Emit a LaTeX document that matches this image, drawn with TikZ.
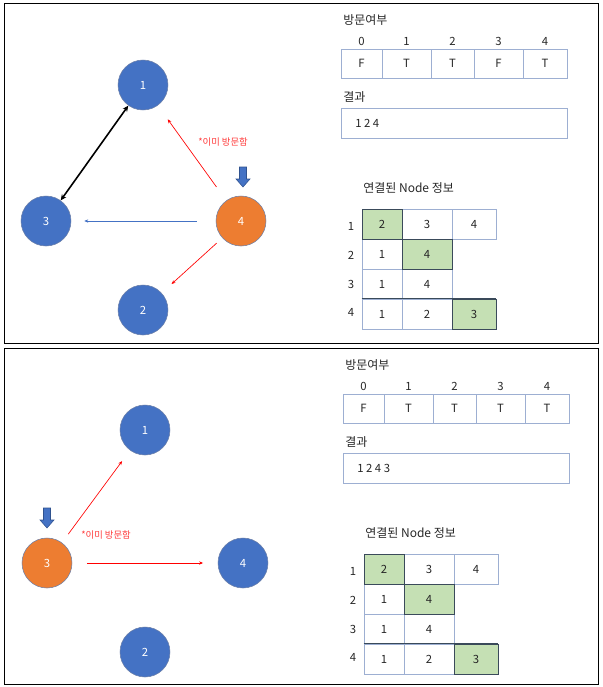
\documentclass[tikz,border=0pt]{standalone}
\usepackage{fontspec}
\setmainfont{Noto Sans CJK KR}
\usetikzlibrary{arrows.meta}
\pgfdeclarelayer{edgelayer}
\pgfdeclarelayer{nodelayer}
\pgfsetlayers{edgelayer,nodelayer,main}
\definecolor{nodeblue}{HTML}{4472C4}
\definecolor{nodeorange}{HTML}{ED7D31}
\definecolor{nodeline}{HTML}{6B7FA8}
\definecolor{pointerline}{HTML}{2F528F}
\definecolor{cellline}{HTML}{9DAFD2}
\definecolor{celldark}{HTML}{3A4A5A}
\definecolor{cellgreen}{HTML}{C5E0B4}
\definecolor{textgray}{HTML}{262626}
\definecolor{notered}{HTML}{FF3B3B}
\tikzstyle{vertex}=[circle, fill=nodeblue, draw=nodeline, line width=0.4pt, minimum size=37.5pt, inner sep=0pt, text=white, font=\fontsize{8.5}{10}\selectfont]
\tikzstyle{current}=[vertex, fill=nodeorange]
\tikzstyle{cell}=[rectangle, draw=cellline, fill=white, line width=0.6pt, inner sep=0pt, minimum height=22pt, text=textgray, font=\fontsize{8.5}{10}\selectfont]
\tikzstyle{hit}=[cell, fill=cellgreen, draw=celldark]
\tikzstyle{caption}=[inner sep=0pt, anchor=west, text=textgray, font=\fontsize{9}{11}\selectfont]
\tikzstyle{idx}=[inner sep=0pt, text=textgray, font=\fontsize{8.5}{10}\selectfont]
\tikzstyle{note}=[inner sep=0pt, text=notered, font=\fontsize{7}{8.4}\selectfont]
\tikzstyle{edge}=[draw=black, line width=1.2pt, {Stealth[length=4.5pt,width=4pt]}-{Stealth[length=4.5pt,width=4pt]}]
\tikzstyle{visit}=[draw=red, line width=0.5pt, -{Stealth[length=3pt,width=2.5pt]}]
\tikzstyle{skip}=[draw=nodeblue, line width=0.5pt, -{Stealth[length=3pt,width=2.5pt]}]
\tikzstyle{pointer}=[fill=nodeblue, draw=pointerline, line width=0.4pt]
\tikzstyle{panel}=[draw=black, line width=0.75pt]

\begin{document}
\begin{tikzpicture}[x=0.75pt, y=-0.75pt]
	\useasboundingbox (0,0) rectangle (603,687);
	\draw [style=panel] (4,3) rectangle (598,343);
	\draw [style=panel] (4,348) rectangle (598,684);

	% first step: node 4
	\begin{pgfonlayer}{nodelayer}
		\node [style=vertex] (a1) at (143, 85) {1};
		\node [style=vertex] (a2) at (143, 310) {2};
		\node [style=vertex] (a3) at (46, 221) {3};
		\node [style=current] (a4) at (241, 221) {4};
		\node [style=note] (anote) at (223, 142) {*이미 방문함};
	\end{pgfonlayer}
	\begin{pgfonlayer}{edgelayer}
		\draw [style=edge] (a1) to (a3);
		\draw [style=visit, shorten <=12.5pt, shorten >=12.75pt] (a4) to (a1);
		\draw [style=skip, shorten <=14.25pt, shorten >=9.75pt] (a4) to (a3);
		\draw [style=visit, shorten <=5.7pt, shorten >=10pt] (a4) to (a2);
	\end{pgfonlayer}
	\filldraw [style=pointer] (243,187) -- ++(-7,-8) -- ++(3.5,0) -- ++(0,-12) -- ++(7,0) -- ++(0,12) -- ++(3.5,0) -- cycle;

	\node [style=caption] (avtitle) at (343, 20) {방문여부};
	\node [style=idx] (ai0) at (361.5, 41) {0};
	\node [style=idx] (ai1) at (406.5, 41) {1};
	\node [style=idx] (ai2) at (452.5, 41) {2};
	\node [style=idx] (ai3) at (498.5, 41) {3};
	\node [style=idx] (ai4) at (545, 41) {4};
	\node [style=cell, minimum width=30.75pt, minimum height=21.75pt] (av0) at (361.5, 63.5) {F};
	\node [style=cell, minimum width=36.75pt, minimum height=21.75pt] (av1) at (406.5, 63.5) {T};
	\node [style=cell, minimum width=32.25pt, minimum height=21.75pt] (av2) at (452.5, 63.5) {T};
	\node [style=cell, minimum width=36.75pt, minimum height=21.75pt] (av3) at (498.5, 63.5) {F};
	\node [style=cell, minimum width=33pt, minimum height=21.75pt] (av4) at (545, 63.5) {T};
	\node [style=caption] (artitle) at (343, 97) {결과};
	\node [style=cell, minimum width=169.5pt, minimum height=22.5pt] (arbox) at (454, 123) {};
	\node [style=caption, font=\fontsize{8.5}{10}\selectfont] (artext) at (355, 123) {1 2 4};

	\node [style=caption] (agtitle) at (363, 188) {연결된 Node 정보};
	\node [style=idx] (ar1) at (351, 226) {1};
	\node [style=idx] (ar2) at (351, 255) {2};
	\node [style=idx] (ar3) at (351, 284) {3};
	\node [style=idx] (ar4) at (351, 312) {4};
	\node [style=cell, minimum width=37.5pt, minimum height=22.5pt] (ag12) at (427, 224) {3};
	\node [style=cell, minimum width=33pt, minimum height=22.5pt] (ag13) at (474, 224) {4};
	\node [style=cell, minimum width=30pt, minimum height=22.5pt] (ag21) at (382, 254) {1};
	\node [style=cell, minimum width=30pt, minimum height=22.5pt] (ag31) at (382, 284) {1};
	\node [style=cell, minimum width=37.5pt, minimum height=22.5pt] (ag32) at (427, 284) {4};
	\node [style=cell, minimum width=30pt, minimum height=22.5pt] (ag41) at (382, 314) {1};
	\node [style=cell, minimum width=37.5pt, minimum height=22.5pt] (ag42) at (427, 314) {2};
	\node [style=hit, minimum width=30pt, minimum height=22.5pt] (ag11) at (382, 224) {2};
	\node [style=hit, minimum width=37.5pt, minimum height=22.5pt] (ag22) at (427, 254) {4};
	\node [style=hit, minimum width=33pt, minimum height=22.5pt] (ag43) at (474, 314) {3};
	\draw [draw=celldark, line width=0.6pt] (ag41.north west) -- (ag43.north east);

	% second step: node 3
	\begin{pgfonlayer}{nodelayer}
		\node [style=vertex] (b1) at (145, 430) {1};
		\node [style=vertex] (b2) at (145, 652) {2};
		\node [style=current] (b3) at (47, 563) {3};
		\node [style=vertex] (b4) at (243, 563) {4};
		\node [style=note] (bnote) at (106, 535) {*이미 방문함};
	\end{pgfonlayer}
	\begin{pgfonlayer}{edgelayer}
		\draw [style=visit, shorten <=8pt, shorten >=10pt] (b3) to (b1);
		\draw [style=visit, line width=0.7pt, shorten <=11pt, shorten >=11pt] (b3) to (b4);
	\end{pgfonlayer}
	\filldraw [style=pointer] (47,528) -- ++(-7,-8) -- ++(3.5,0) -- ++(0,-12) -- ++(7,0) -- ++(0,12) -- ++(3.5,0) -- cycle;

	\node [style=caption] (bvtitle) at (345, 365) {방문여부};
	\node [style=idx] (bi0) at (363.5, 386) {0};
	\node [style=idx] (bi1) at (408.5, 386) {1};
	\node [style=idx] (bi2) at (454.5, 386) {2};
	\node [style=idx] (bi3) at (500.5, 386) {3};
	\node [style=idx] (bi4) at (547, 386) {4};
	\node [style=cell, minimum width=30.75pt, minimum height=21.75pt] (bv0) at (363.5, 408.5) {F};
	\node [style=cell, minimum width=36.75pt, minimum height=21.75pt] (bv1) at (408.5, 408.5) {T};
	\node [style=cell, minimum width=32.25pt, minimum height=21.75pt] (bv2) at (454.5, 408.5) {T};
	\node [style=cell, minimum width=36.75pt, minimum height=21.75pt] (bv3) at (500.5, 408.5) {T};
	\node [style=cell, minimum width=33pt, minimum height=21.75pt] (bv4) at (547, 408.5) {T};
	\node [style=caption] (brtitle) at (345, 442) {결과};
	\node [style=cell, minimum width=169.5pt, minimum height=22.5pt] (brbox) at (456, 468) {};
	\node [style=caption, font=\fontsize{8.5}{10}\selectfont] (brtext) at (357, 468) {1 2 4 3};

	\node [style=caption] (bgtitle) at (365, 533) {연결된 Node 정보};
	\node [style=idx] (br1) at (353, 571) {1};
	\node [style=idx] (br2) at (353, 600) {2};
	\node [style=idx] (br3) at (353, 629) {3};
	\node [style=idx] (br4) at (353, 657) {4};
	\node [style=cell, minimum width=37.5pt, minimum height=22.5pt] (bg12) at (429, 569) {3};
	\node [style=cell, minimum width=33pt, minimum height=22.5pt] (bg13) at (476, 569) {4};
	\node [style=cell, minimum width=30pt, minimum height=22.5pt] (bg21) at (384, 599) {1};
	\node [style=cell, minimum width=30pt, minimum height=22.5pt] (bg31) at (384, 629) {1};
	\node [style=cell, minimum width=37.5pt, minimum height=22.5pt] (bg32) at (429, 629) {4};
	\node [style=cell, minimum width=30pt, minimum height=22.5pt] (bg41) at (384, 659) {1};
	\node [style=cell, minimum width=37.5pt, minimum height=22.5pt] (bg42) at (429, 659) {2};
	\node [style=hit, minimum width=30pt, minimum height=22.5pt] (bg11) at (384, 569) {2};
	\node [style=hit, minimum width=37.5pt, minimum height=22.5pt] (bg22) at (429, 599) {4};
	\node [style=hit, minimum width=33pt, minimum height=22.5pt] (bg43) at (476, 659) {3};
	\draw [draw=celldark, line width=0.6pt] (bg41.north west) -- (bg43.north east);
\end{tikzpicture}
\end{document}
